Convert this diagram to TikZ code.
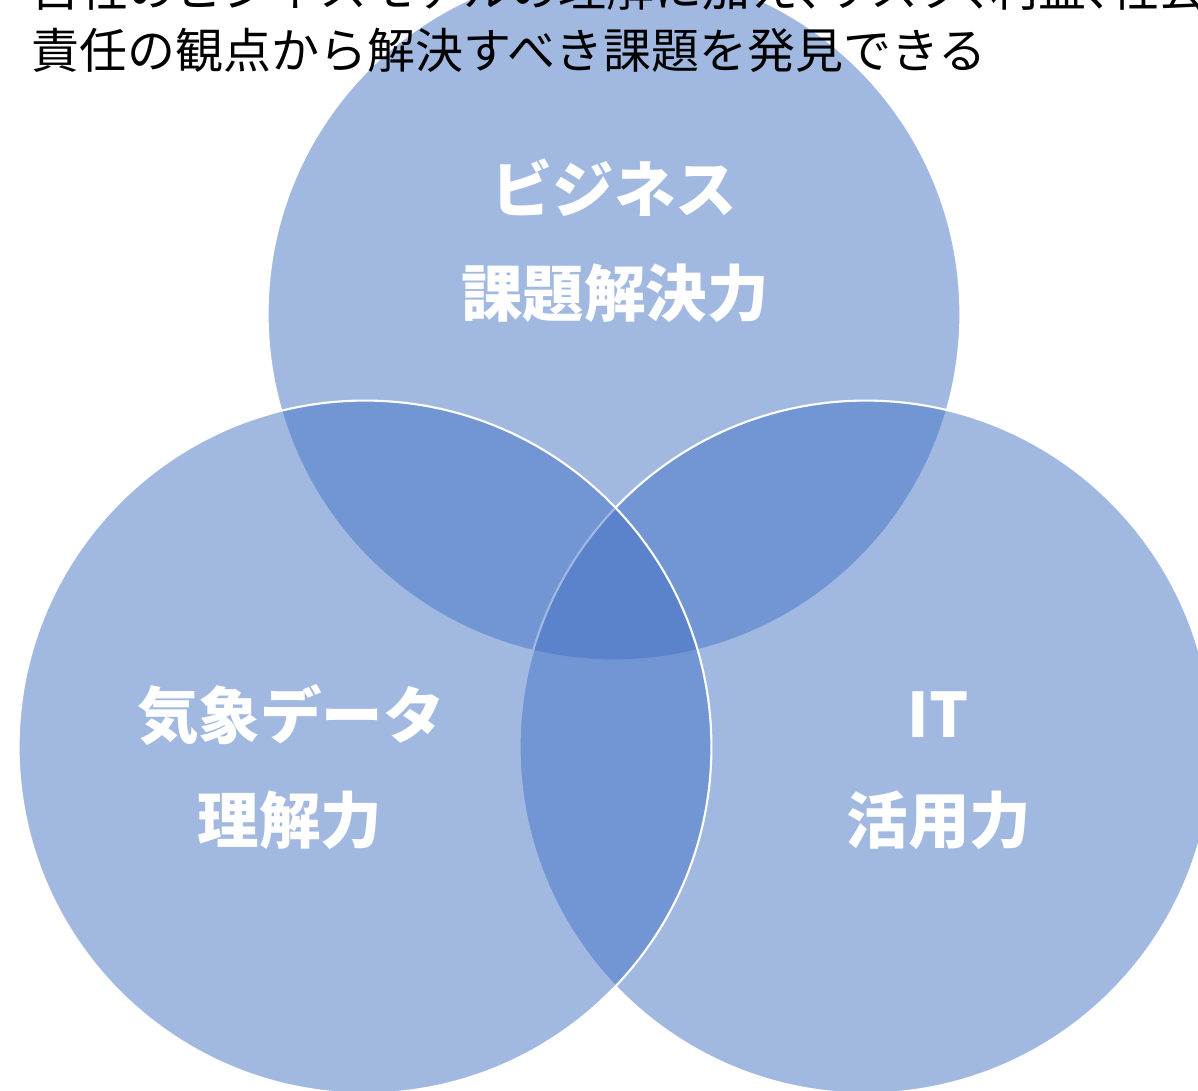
\documentclass[tikz,border=0pt]{standalone}
\usepackage{fontspec}
\setmainfont{Noto Sans CJK JP}
\usepackage{tikz}
\usetikzlibrary{shapes,positioning}
\definecolor{vennblue}{HTML}{4472C4}
\newcommand{\halfcomma}{\makebox[0.5em][l]{、}}

\begin{document}
\begin{tikzpicture}[x=0.02cm, y=-0.02cm]
			\tikzstyle{Venn}	= [circle, draw=white, line width=1.2pt, fill=vennblue, fill opacity=0.5, minimum size=13.86cm, inner sep=0pt]
			\tikzstyle{Head}	= [anchor=west, inner sep=0pt, text=black, font=\fontsize{27.3pt}{32pt}\selectfont]
			\tikzstyle{Skill}	= [inner sep=0pt, text=white, font=\fontsize{35pt}{42pt}\selectfont\bfseries]

			\useasboundingbox (0,0) rectangle (1198,1091);

			% circles: top, right, left
			\node (biz) at (614, 314) [Venn] {};
			\node (it) at (866, 747) [Venn] {};
			\node (met) at (365, 747) [Venn] {};

			% heading
			\node (line1) at (31, -12) [Head] {自社のビジネスモデルの理解に加え\halfcomma リスク\halfcomma 利益\halfcomma 社会的};
			\node (line2) at (31, 50) [Head] {責任の観点から解決すべき課題を発見できる};

			% labels
			\node (bizA) at (614, 188) [Skill] {ビジネス};
			\node (bizB) at (615, 293) [Skill] {課題解決力};
			\node (metA) at (291, 715) [Skill] {気象データ};
			\node (metB) at (290, 820) [Skill] {理解力};
			\node (itA) at (938, 715) [Skill] {IT};
			\node (itB) at (939, 820) [Skill] {活用力};
		\end{tikzpicture}
\end{document}
